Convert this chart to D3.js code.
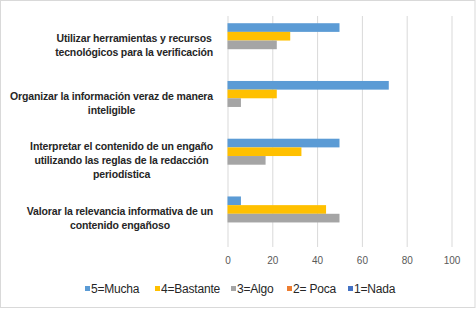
<!DOCTYPE html>
<html lang="es">
<head>
<meta charset="UTF-8">
<title>bar chart</title>
<style>
  body { margin: 0; background: #fff; }
  .grid line { stroke: #d9d9d9; stroke-width: 1px; }
  .grid path { display: none; }
  .tick text { fill: #595959; font-family: "Liberation Sans", Arial, sans-serif; font-size: 10px; }
</style>
</head>
<body>
<div id="chart"></div>
<script src="https://d3js.org/d3.v7.min.js"></script>
<script>
// categories, top to bottom, each as its wrapped lines
var categories = [
  ["Utilizar herramientas y recursos", "tecnológicos para la verificación"],
  ["Organizar la información veraz de manera", "inteligible"],
  ["Interpretar el contenido de un engaño", "utilizando las reglas de la redacción", "periodística"],
  ["Valorar la relevancia informativa de un", "contenido engañoso"]
];
var seriesNames = ["5=Mucha", "4=Bastante", "3=Algo", "2= Poca", "1=Nada"];
var seriesColors = ["#5b9bd5", "#ffc000", "#a5a5a5", "#ed7d31", "#4472c4"];
var mucha    = [50, 72, 50, 6];
var bastante = [28, 22, 33, 44];
var algo     = [22, 6, 17, 50];
var poca     = [0, 0, 0, 0];
var nada     = [0, 0, 0, 0];
var xTicks = [0, 20, 40, 60, 80, 100];

var seriesValues = [mucha, bastante, algo, poca, nada];

var W = 476, H = 309;
var margin = {top: 16, right: 25, bottom: 62, left: 227.5};
var width = 451.5 - margin.left;
var height = 247 - margin.top;

var svg = d3.select("#chart").append("svg")
  .attr("width", W).attr("height", H);

// chart frame
svg.append("rect")
  .attr("x", 0.5).attr("y", 0.5)
  .attr("width", W - 1.5).attr("height", H - 2)
  .attr("fill", "#fff").attr("stroke", "#d9d9d9");

var g = svg.append("g").attr("transform", "translate(" + margin.left + "," + margin.top + ")");

var x = d3.scaleLinear().domain([0, 100]).range([0, width]);
var y0 = d3.scaleBand().domain(d3.range(categories.length)).range([0, height]).paddingInner(0.25).paddingOuter(0.125);
var y1 = d3.scaleBand().domain(d3.range(seriesNames.length)).range([0, y0.bandwidth()]);

// gridlines + tick labels
var xAxis = d3.axisBottom(x).tickValues(xTicks).tickSize(height).tickPadding(10);
var axisG = g.append("g").attr("class", "grid").call(xAxis);
axisG.selectAll(".tick line").attr("stroke", "#d9d9d9");

// bars
categories.forEach(function(c, ci) {
  seriesValues.forEach(function(vals, si) {
    g.append("rect")
      .attr("x", x(0))
      .attr("y", y0(ci) + y1(si))
      .attr("width", x(vals[ci]) - x(0))
      .attr("height", y1.bandwidth())
      .attr("fill", seriesColors[si]);
  });
});

// category labels (lines centered in a block right-aligned to the axis)
var labelRight = 213;
var lineH = 14;
categories.forEach(function(lines, ci) {
  var cy = margin.top + y0(ci) + y0.bandwidth() / 2;
  var t = svg.append("text")
    .attr("font-family", "'Liberation Sans', Arial, sans-serif")
    .attr("font-size", "10.5px")
    .attr("font-weight", "bold")
    .attr("letter-spacing", "-0.15px")
    .attr("fill", "#262626")
    .attr("text-anchor", "middle");
  var spans = lines.map(function(l, li) {
    return t.append("tspan")
      .attr("y", cy + (li - (lines.length - 1) / 2) * lineH + 4)
      .text(l);
  });
  var maxW = d3.max(spans, function(s) { return s.node().getComputedTextLength(); });
  spans.forEach(function(s) { s.attr("x", labelRight - maxW / 2); });
});

// legend
var legendX = [85, 155, 231, 287, 348];
var legend = svg.append("g").attr("transform", "translate(0,289)");
seriesNames.forEach(function(n, i) {
  legend.append("rect")
    .attr("x", legendX[i]).attr("y", -3)
    .attr("width", 5).attr("height", 5)
    .attr("fill", seriesColors[i]);
  legend.append("text")
    .attr("x", legendX[i] + 6).attr("y", 4)
    .attr("font-family", "'Liberation Sans', Arial, sans-serif")
    .attr("font-size", "12px")
    .attr("letter-spacing", "-0.2px")
    .attr("fill", "#262626")
    .text(n);
});
</script>
</body>
</html>
